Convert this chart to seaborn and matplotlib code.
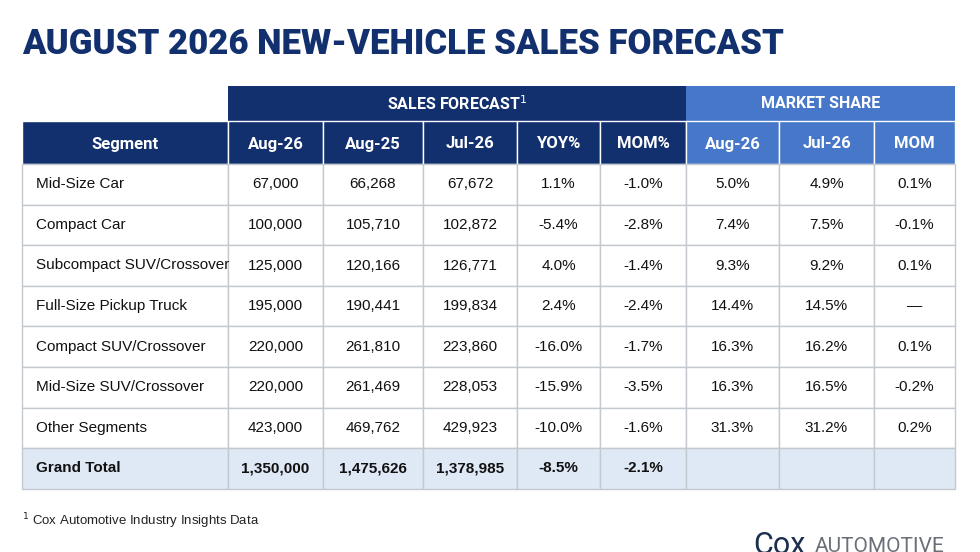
import matplotlib
matplotlib.use("Agg")
import matplotlib.pyplot as plt
import seaborn as sns
from matplotlib.patches import Rectangle

sns.set_theme(style="white")
plt.rcParams['font.family'] = ['Liberation Sans', 'DejaVu Sans']

segments = ["Mid-Size Car", "Compact Car", "Subcompact SUV/Crossover", "Full-Size Pickup Truck",
            "Compact SUV/Crossover", "Mid-Size SUV/Crossover", "Other Segments", "Grand Total"]
aug26 = ["67,000", "100,000", "125,000", "195,000", "220,000", "220,000", "423,000", "1,350,000"]
aug25 = ["66,268", "105,710", "120,166", "190,441", "261,810", "261,469", "469,762", "1,475,626"]
jul26 = ["67,672", "102,872", "126,771", "199,834", "223,860", "228,053", "429,923", "1,378,985"]
yoy = ["1.1%", "-5.4%", "4.0%", "2.4%", "-16.0%", "-15.9%", "-10.0%", "-8.5%"]
mom = ["-1.0%", "-2.8%", "-1.4%", "-2.4%", "-1.7%", "-3.5%", "-1.6%", "-2.1%"]
ms_aug26 = ["5.0%", "7.4%", "9.3%", "14.4%", "16.3%", "16.3%", "31.3%", ""]
ms_jul26 = ["4.9%", "7.5%", "9.2%", "14.5%", "16.2%", "16.5%", "31.2%", ""]
ms_mom = ["0.1%", "-0.1%", "0.1%", "—", "0.1%", "-0.2%", "0.2%", ""]
col_labels = ["Segment", "Aug-26", "Aug-25", "Jul-26", "YOY%", "MOM%", "Aug-26", "Jul-26", "MOM"]

NAVY = "#12306e"
LIGHT = "#4677c8"
GRID = "#c4c8cf"
TOTAL_BG = "#dfe8f5"
HEAD = ["Roboto", "DejaVu Sans"]

fig = plt.figure(figsize=(9.8, 5.52), dpi=100)
ax = fig.add_axes([0, 0, 1, 1])
ax.set_xlim(0, 980)
ax.set_ylim(552, 0)
ax.axis("off")

xs = [22, 228, 323, 423, 517, 600, 686, 779, 874, 955]
row_top = 164
rh = 40.6

ax.text(22, 44, "AUGUST 2026 NEW-VEHICLE SALES FORECAST", fontsize=25, fontweight="black",
        color=NAVY, va="center", ha="left", family=HEAD)

ax.add_patch(Rectangle((228, 86), 686 - 228, 35, color=NAVY, lw=0))
ax.add_patch(Rectangle((686, 86), 955 - 686, 35, color=LIGHT, lw=0))
ax.text((228 + 686) / 2, 103.5, "SALES FORECAST$^1$", color="white", fontsize=11.5, fontweight="bold",
        ha="center", va="center", family=HEAD)
ax.text((686 + 955) / 2, 103.5, "MARKET SHARE", color="white", fontsize=11.5, fontweight="bold",
        ha="center", va="center", family=HEAD)

for i, lab in enumerate(col_labels):
    c = LIGHT if i >= 6 else NAVY
    ax.add_patch(Rectangle((xs[i], 121), xs[i + 1] - xs[i], row_top - 121, facecolor=c, edgecolor="white", lw=1))
    ax.text((xs[i] + xs[i + 1]) / 2, 144, lab, color="white", fontsize=12, fontweight="bold",
            ha="center", va="center", family=HEAD)

cols = [segments, aug26, aug25, jul26, yoy, mom, ms_aug26, ms_jul26, ms_mom]
n = len(segments)
for r in range(n):
    y0 = row_top + r * rh
    total = r == n - 1
    for c in range(9):
        ax.add_patch(Rectangle((xs[c], y0), xs[c + 1] - xs[c], rh,
                               facecolor=TOTAL_BG if total else "white", edgecolor=GRID, lw=1))
        val = cols[c][r]
        fw = "bold" if total else "normal"
        if c == 0:
            ax.text(xs[0] + 14, y0 + rh / 2, val, fontsize=11, ha="left", va="center", color="#111", fontweight=fw)
        else:
            ax.text((xs[c] + xs[c + 1]) / 2, y0 + rh / 2, val, fontsize=11, ha="center", va="center",
                    color="#111", fontweight=fw)

ax.text(22, 521, "$^1$ Cox Automotive Industry Insights Data", fontsize=9.5, ha="left", va="center", color="#222")
ax.text(753, 546, "Cox", fontsize=22, color="#1c2f4f", ha="left", va="center", family=HEAD)
ax.text(815, 547, "AUTOMOTIVE", fontsize=15, color="#6b6f78", ha="left", va="center", family=HEAD)

fig.savefig("out.png", dpi=100)
